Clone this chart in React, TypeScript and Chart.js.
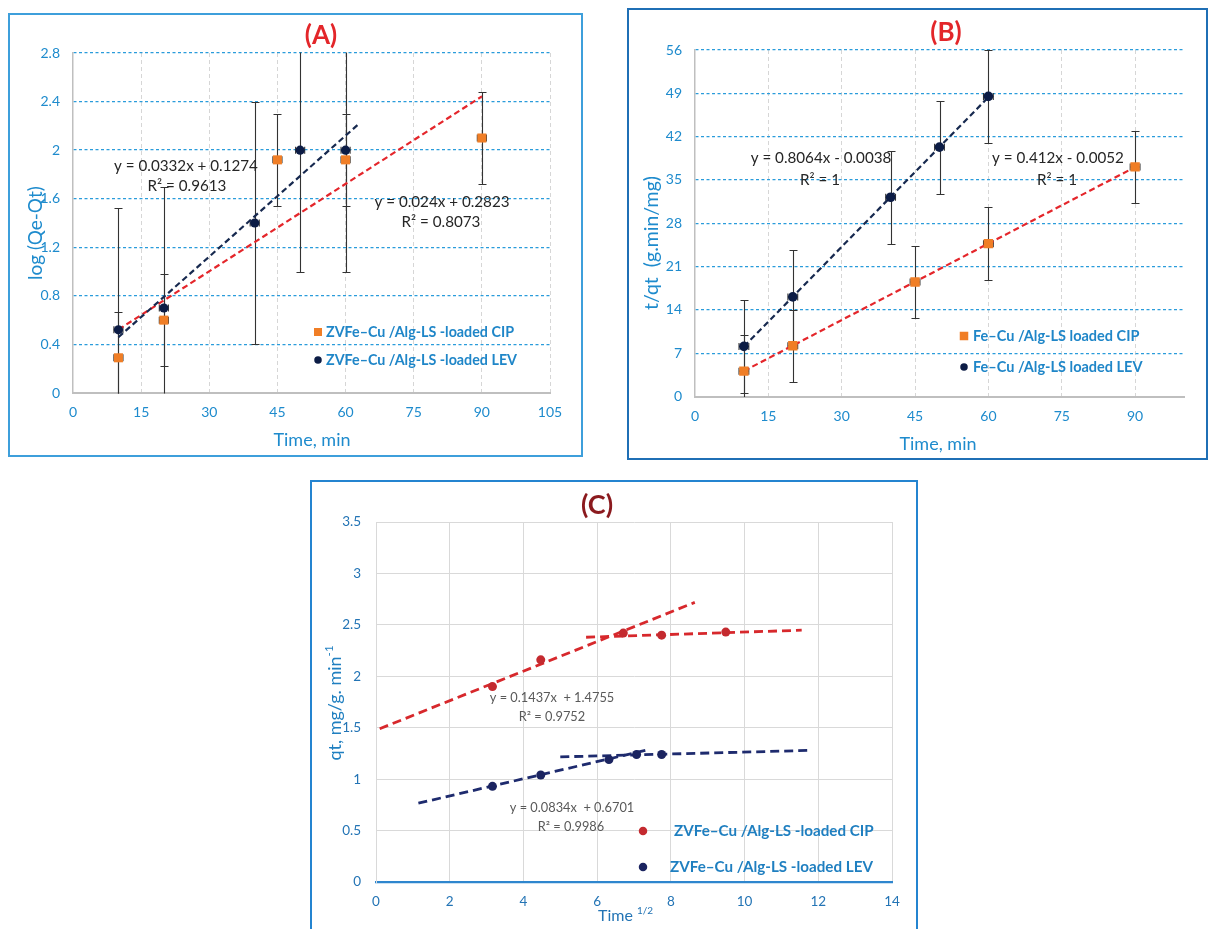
import React, { useEffect, useRef } from 'react';
import { Chart, registerables } from 'chart.js';

Chart.register(...registerables);

const FAMILY = "Lato, 'Open Sans', 'DejaVu Sans', sans-serif";

// ---------- (A) pseudo-first-order: log(Qe-Qt) vs time ----------
const A_TIME_CIP = [10, 20, 45, 60, 90];
const A_LOG_CIP = [0.29, 0.6, 1.92, 1.92, 2.1];
const A_ERR_CIP = [0.38, 0.38, 0.38, 0.38, 0.38];
const A_TIME_LEV = [10, 20, 40, 50, 60];
const A_LOG_LEV = [0.52, 0.7, 1.4, 2.0, 2.0];
const A_ERR_LEV = [1, 1, 1, 1, 1];
const A_X_TICKS = [0, 15, 30, 45, 60, 75, 90, 105];
const A_Y_TICKS = [0, 0.4, 0.8, 1.2, 1.6, 2, 2.4, 2.8];
// linear fits: [slope, intercept, xStart, xEnd]
const A_FIT_CIP = [0.024, 0.2823, 10, 90];
const A_FIT_LEV = [0.0332, 0.1274, 10, 63];

// ---------- (B) pseudo-second-order: t/qt vs time ----------
const B_TIME_CIP = [10, 20, 45, 60, 90];
const B_TQ_CIP = [4.1, 8.2, 18.5, 24.7, 37.1];
const B_ERR_CIP = [5.85, 5.85, 5.85, 5.85, 5.85];
const B_TIME_LEV = [10, 20, 40, 50, 60];
const B_TQ_LEV = [8.1, 16.1, 32.2, 40.3, 48.5];
const B_ERR_LEV = [7.5, 7.5, 7.5, 7.5, 7.5];
const B_X_TICKS = [0, 15, 30, 45, 60, 75, 90];
const B_Y_TICKS = [0, 7, 14, 21, 28, 35, 42, 49, 56];
const B_FIT_CIP = [0.412, -0.0052, 10, 90];
const B_FIT_LEV = [0.8064, -0.0038, 10, 60];

// ---------- (C) intraparticle diffusion: qt vs t^1/2 ----------
const C_ROOT_CIP = [3.16, 4.47, 6.71, 7.75, 9.49];
const C_QT_CIP = [1.9, 2.16, 2.42, 2.4, 2.43];
const C_ROOT_LEV = [3.16, 4.47, 6.32, 7.07, 7.75];
const C_QT_LEV = [0.93, 1.04, 1.19, 1.24, 1.24];
const C_X_TICKS = [0, 2, 4, 6, 8, 10, 12, 14];
const C_Y_TICKS = [0, 0.5, 1, 1.5, 2, 2.5, 3, 3.5];
const C_FIT_CIP_1 = [0.1437, 1.4755, 0.1, 8.65];
const C_FIT_CIP_2 = [0.0117, 2.313, 5.7, 11.55];
const C_FIT_LEV_1 = [0.0834, 0.6701, 1.15, 7.35];
const C_FIT_LEV_2 = [0.0093, 1.17, 5.0, 11.8];

const LABEL_ZV_CIP = 'ZVFe–Cu /Alg-LS -loaded CIP';
const LABEL_ZV_LEV = 'ZVFe–Cu /Alg-LS -loaded LEV';
const LABEL_FE_CIP = 'Fe–Cu /Alg-LS loaded CIP';
const LABEL_FE_LEV = 'Fe–Cu /Alg-LS loaded LEV';

const ORANGE = '#F07E26';
const NAVY = '#0C1C45';
const FIT_RED = '#E4262B';
const FIT_NAVY = '#17294F';

type Part = { t: string; size: number; bold?: boolean; dy?: number };
type TextItem = { parts: Part[]; x: number; y: number; color: string; align?: 'center' | 'left'; rot?: number };
type LegendItem = {
  label: string; color: string; shape: 'rect' | 'circle'; x: number; y: number;
  gap: number; size: number; textColor: string; textSize: number;
};
type ErrSet = { xs: number[]; ys: number[]; yerr: number[]; xerr: number };

interface PanelSpec {
  left: number; top: number; w: number; h: number;
  plot: { l: number; r: number; t: number; b: number };
  border: string;
  xMin: number; xMax: number; yMin: number; yMax: number;
  xTicks: number[]; yTicks: number[];
  tickColor: string; tickSize: number; xPad: number; yPad: number;
  grid: 'excelDotted' | 'plain';
  xAxisColor: string; xAxisWidth: number;
  datasets: any[];
  errors: ErrSet[];
  texts: TextItem[];
  legend: LegendItem[];
}

const pts = (xs: number[], ys: number[]) => xs.map((x, i) => ({ x, y: ys[i] }));

const markerSet = (label: string, xs: number[], ys: number[], color: string, style: string, radius: number) => ({
  label,
  data: pts(xs, ys),
  pointStyle: style,
  pointRadius: radius,
  pointHoverRadius: radius,
  backgroundColor: color,
  borderColor: color,
  borderWidth: 0,
  showLine: false,
  order: 0,
});

const fitSet = (fit: number[], color: string, width: number, dash: number[]) => ({
  label: 'fit',
  data: [
    { x: fit[2], y: fit[0] * fit[2] + fit[1] },
    { x: fit[3], y: fit[0] * fit[3] + fit[1] },
  ],
  showLine: true,
  borderColor: color,
  borderWidth: width,
  borderDash: dash,
  pointRadius: 0,
  pointHoverRadius: 0,
  fill: false,
  tension: 0,
  order: 1,
});

function drawRich(ctx: CanvasRenderingContext2D, item: TextItem) {
  ctx.save();
  ctx.translate(item.x, item.y);
  ctx.rotate(item.rot || 0);
  ctx.fillStyle = item.color;
  ctx.textBaseline = 'middle';
  ctx.textAlign = 'left';
  const fonts = item.parts.map((p) => `${p.bold ? 'bold ' : ''}${p.size}px ${FAMILY}`);
  const widths = item.parts.map((p, i) => {
    ctx.font = fonts[i];
    return ctx.measureText(p.t).width;
  });
  const total = widths.reduce((a, b) => a + b, 0);
  let cx = item.align === 'left' ? 0 : -total / 2;
  item.parts.forEach((p, i) => {
    ctx.font = fonts[i];
    ctx.fillText(p.t, cx, p.dy || 0);
    cx += widths[i];
  });
  ctx.restore();
}

const fmt = (v: number) => String(+Number(v).toFixed(2));

function buildConfig(spec: PanelSpec): any {
  const errorPlugin = {
    id: 'errorBars',
    beforeDatasetsDraw(chart: any) {
      const { ctx, chartArea, scales } = chart;
      const xs = scales.x;
      const ys = scales.y;
      ctx.save();
      ctx.beginPath();
      ctx.rect(chartArea.left, chartArea.top - 0.5, chartArea.right - chartArea.left, chartArea.bottom - chartArea.top + 1);
      ctx.clip();
      ctx.strokeStyle = '#333333';
      ctx.lineWidth = 1.1;
      const seg = (x1: number, y1: number, x2: number, y2: number) => {
        ctx.beginPath();
        ctx.moveTo(x1, y1);
        ctx.lineTo(x2, y2);
        ctx.stroke();
      };
      spec.errors.forEach((set) => {
        set.xs.forEach((xv, i) => {
          const px = Math.round(xs.getPixelForValue(xv)) + 0.5;
          const py = ys.getPixelForValue(set.ys[i]);
          const top = Math.round(ys.getPixelForValue(set.ys[i] + set.yerr[i])) + 0.5;
          const bot = Math.round(ys.getPixelForValue(set.ys[i] - set.yerr[i])) + 0.5;
          seg(px, top, px, bot);
          seg(px - 4, top, px + 4, top);
          seg(px - 4, bot, px + 4, bot);
          const l = xs.getPixelForValue(xv - set.xerr);
          const r = xs.getPixelForValue(xv + set.xerr);
          seg(l, py, r, py);
          seg(l, py - 3.5, l, py + 3.5);
          seg(r, py - 3.5, r, py + 3.5);
        });
      });
      ctx.restore();
    },
  };

  const textPlugin = {
    id: 'panelText',
    afterDraw(chart: any) {
      const ctx = chart.ctx as CanvasRenderingContext2D;
      spec.texts.forEach((t) => drawRich(ctx, t));
      spec.legend.forEach((lg) => {
        ctx.save();
        ctx.fillStyle = lg.color;
        if (lg.shape === 'rect') {
          ctx.fillRect(lg.x - lg.size / 2, lg.y - lg.size / 2, lg.size, lg.size);
        } else {
          ctx.beginPath();
          ctx.arc(lg.x, lg.y, lg.size / 2, 0, Math.PI * 2);
          ctx.fill();
        }
        ctx.restore();
        drawRich(ctx, {
          parts: [{ t: lg.label, size: lg.textSize, bold: true }],
          x: lg.x + lg.gap,
          y: lg.y,
          color: lg.textColor,
          align: 'left',
        });
      });
    },
  };

  const excel = spec.grid === 'excelDotted';
  const tickFont = { family: FAMILY, size: spec.tickSize, lineHeight: 1.2 };

  return {
    type: 'scatter',
    data: { datasets: spec.datasets },
    options: {
      responsive: false,
      animation: false,
      devicePixelRatio: 1,
      events: [],
      layout: { padding: { left: 0, top: spec.plot.t, right: spec.w - spec.plot.r, bottom: 0 } },
      plugins: { legend: { display: false }, tooltip: { enabled: false }, title: { display: false } },
      scales: {
        x: {
          type: 'linear',
          min: spec.xMin,
          max: spec.xMax,
          afterBuildTicks: (s: any) => {
            s.ticks = spec.xTicks.map((v) => ({ value: v }));
          },
          afterFit: (s: any) => {
            s.height = spec.h - spec.plot.b;
          },
          ticks: {
            autoSkip: false,
            maxRotation: 0,
            padding: spec.xPad,
            color: spec.tickColor,
            font: tickFont,
            callback: (v: number) => fmt(v),
          },
          grid: {
            drawTicks: false,
            lineWidth: 1,
            color: (c: any) => (c.tick && c.tick.value === spec.xMin ? 'rgba(0,0,0,0)' : excel ? '#D6D6D6' : '#D9D9D9'),
          },
          border: { display: true, color: spec.xAxisColor, width: spec.xAxisWidth, dash: excel ? [4, 3] : [] },
        },
        y: {
          type: 'linear',
          min: spec.yMin,
          max: spec.yMax,
          afterBuildTicks: (s: any) => {
            s.ticks = spec.yTicks.map((v) => ({ value: v }));
          },
          afterFit: (s: any) => {
            s.width = spec.plot.l;
          },
          ticks: {
            autoSkip: false,
            padding: spec.yPad,
            color: spec.tickColor,
            font: tickFont,
            callback: (v: number) => fmt(v),
          },
          grid: {
            drawTicks: false,
            lineWidth: excel ? 1.3 : 1,
            color: (c: any) => (c.tick && c.tick.value === spec.yMin ? 'rgba(0,0,0,0)' : excel ? '#2A9CDB' : '#D9D9D9'),
          },
          border: { display: true, color: excel ? '#BFBFBF' : '#D9D9D9', width: excel ? 1.5 : 1, dash: excel ? [3, 2.5] : [] },
        },
      },
    },
    plugins: [errorPlugin, textPlugin],
  };
}

const BLUE_TXT = '#1E8BCD';
const EQ_DARK = '#262626';
const EQ_SIZE = 15.2;

const PANEL_A: PanelSpec = {
  left: 8, top: 13, w: 575, h: 444,
  plot: { l: 65, r: 542, t: 40, b: 380 },
  border: '#3E9FDB',
  xMin: 0, xMax: 105, yMin: 0, yMax: 2.8,
  xTicks: A_X_TICKS, yTicks: A_Y_TICKS,
  tickColor: BLUE_TXT, tickSize: 14, xPad: 11.5, yPad: 13,
  grid: 'excelDotted',
  xAxisColor: '#BFBFBF', xAxisWidth: 2,
  datasets: [
    markerSet(LABEL_ZV_CIP, A_TIME_CIP, A_LOG_CIP, ORANGE, 'rect', 6.4),
    markerSet(LABEL_ZV_LEV, A_TIME_LEV, A_LOG_LEV, NAVY, 'circle', 4.6),
    fitSet(A_FIT_LEV, FIT_NAVY, 2.2, [6, 3.5]),
    fitSet(A_FIT_CIP, FIT_RED, 2.2, [6, 3.5]),
  ],
  errors: [
    { xs: A_TIME_CIP, ys: A_LOG_CIP, yerr: A_ERR_CIP, xerr: 1 },
    { xs: A_TIME_LEV, ys: A_LOG_LEV, yerr: A_ERR_LEV, xerr: 1 },
  ],
  texts: [
    { parts: [{ t: '(A)', size: 26, bold: true }], x: 313, y: 23, color: '#E3262A' },
    { parts: [{ t: 'log (Qe-Qt)', size: 19 }], x: 28, y: 220, color: BLUE_TXT, rot: -Math.PI / 2 },
    { parts: [{ t: 'Time, min', size: 18 }], x: 304, y: 427, color: BLUE_TXT },
    { parts: [{ t: 'y = 0.0332x + 0.1274', size: EQ_SIZE }], x: 178, y: 153, color: EQ_DARK },
    { parts: [{ t: 'R² = 0.9613', size: EQ_SIZE }], x: 179, y: 173, color: EQ_DARK },
    { parts: [{ t: 'y = 0.024x + 0.2823', size: EQ_SIZE }], x: 434, y: 189, color: EQ_DARK },
    { parts: [{ t: 'R² = 0.8073', size: EQ_SIZE }], x: 433, y: 209, color: EQ_DARK },
  ],
  legend: [
    { label: LABEL_ZV_CIP, color: ORANGE, shape: 'rect', x: 310, y: 319, gap: 8, size: 8, textColor: '#1F86C8', textSize: 14.3 },
    { label: LABEL_ZV_LEV, color: NAVY, shape: 'circle', x: 310, y: 347, gap: 8, size: 7.5, textColor: '#1F86C8', textSize: 14.3 },
  ],
};

const PANEL_B: PanelSpec = {
  left: 627, top: 8, w: 581, h: 452,
  plot: { l: 68, r: 557, t: 42, b: 388.5 },
  border: '#1F6FB5',
  xMin: 0, xMax: 100, yMin: 0, yMax: 56,
  xTicks: B_X_TICKS, yTicks: B_Y_TICKS,
  tickColor: BLUE_TXT, tickSize: 14, xPad: 12, yPad: 13,
  grid: 'excelDotted',
  xAxisColor: '#BFBFBF', xAxisWidth: 2,
  datasets: [
    markerSet(LABEL_FE_CIP, B_TIME_CIP, B_TQ_CIP, ORANGE, 'rect', 6.6),
    markerSet(LABEL_FE_LEV, B_TIME_LEV, B_TQ_LEV, NAVY, 'circle', 4.8),
    fitSet(B_FIT_LEV, FIT_NAVY, 2.2, [6, 3.5]),
    fitSet(B_FIT_CIP, FIT_RED, 2.2, [6, 3.5]),
  ],
  errors: [
    { xs: B_TIME_CIP, ys: B_TQ_CIP, yerr: B_ERR_CIP, xerr: 1 },
    { xs: B_TIME_LEV, ys: B_TQ_LEV, yerr: B_ERR_LEV, xerr: 1 },
  ],
  texts: [
    { parts: [{ t: '(B)', size: 26, bold: true }], x: 319, y: 25, color: '#E3262A' },
    { parts: [{ t: 't/qt  (g.min/mg)', size: 19.5 }], x: 25, y: 235, color: BLUE_TXT, rot: -Math.PI / 2 },
    { parts: [{ t: 'Time, min', size: 18 }], x: 311, y: 436, color: BLUE_TXT },
    { parts: [{ t: 'y = 0.8064x - 0.0038', size: EQ_SIZE }], x: 194, y: 150, color: EQ_DARK },
    { parts: [{ t: 'R² = 1', size: EQ_SIZE }], x: 193, y: 172, color: EQ_DARK },
    { parts: [{ t: 'y = 0.412x - 0.0052', size: EQ_SIZE }], x: 431, y: 150, color: EQ_DARK },
    { parts: [{ t: 'R² = 1', size: EQ_SIZE }], x: 430, y: 172, color: EQ_DARK },
  ],
  legend: [
    { label: LABEL_FE_CIP, color: ORANGE, shape: 'rect', x: 337, y: 328, gap: 9, size: 8.5, textColor: '#1F86C8', textSize: 14.5 },
    { label: LABEL_FE_LEV, color: NAVY, shape: 'circle', x: 337, y: 359, gap: 9, size: 7.5, textColor: '#1F86C8', textSize: 14.5 },
  ],
};

const C_RED = '#C42A2F';
const C_NAVY = '#1B2460';
const C_LINE_RED = '#D7282C';
const C_LINE_NAVY = '#1E2B6E';
const C_TXT = '#2374B5';

const PANEL_C: PanelSpec = {
  left: 310, top: 480, w: 608, h: 460,
  plot: { l: 66, r: 582, t: 42, b: 402 },
  border: '#2484D0',
  xMin: 0, xMax: 14, yMin: 0, yMax: 3.5,
  xTicks: C_X_TICKS, yTicks: C_Y_TICKS,
  tickColor: C_TXT, tickSize: 13.5, xPad: 12, yPad: 15,
  grid: 'plain',
  xAxisColor: '#2E86CE', xAxisWidth: 2.2,
  datasets: [
    markerSet(LABEL_ZV_CIP, C_ROOT_CIP, C_QT_CIP, C_RED, 'circle', 4.5),
    markerSet(LABEL_ZV_LEV, C_ROOT_LEV, C_QT_LEV, C_NAVY, 'circle', 4.5),
    fitSet(C_FIT_CIP_1, C_LINE_RED, 2.8, [9, 5]),
    fitSet(C_FIT_CIP_2, C_LINE_RED, 2.8, [9, 5]),
    fitSet(C_FIT_LEV_1, C_LINE_NAVY, 2.8, [9, 5]),
    fitSet(C_FIT_LEV_2, C_LINE_NAVY, 2.8, [9, 5]),
  ],
  errors: [],
  texts: [
    { parts: [{ t: '(C)', size: 27, bold: true }], x: 287, y: 25, color: '#8B1A1E' },
    {
      parts: [{ t: 'qt, mg/g. min', size: 18 }, { t: '-1', size: 11.5, dy: -6 }],
      x: 25, y: 223, color: '#1F7FC0', rot: -Math.PI / 2,
    },
    {
      parts: [{ t: 'Time ', size: 16 }, { t: '1/2', size: 10, dy: -5 }],
      x: 288, y: 436, color: C_TXT, align: 'left',
    },
    { parts: [{ t: 'y = 0.1437x  + 1.4755', size: 12.8 }], x: 242, y: 218, color: '#595959' },
    { parts: [{ t: 'R² = 0.9752', size: 12.8 }], x: 242, y: 237, color: '#595959' },
    { parts: [{ t: 'y = 0.0834x  + 0.6701', size: 12.8 }], x: 262, y: 328, color: '#595959' },
    { parts: [{ t: 'R² = 0.9986', size: 12.8 }], x: 261, y: 347, color: '#595959' },
  ],
  legend: [
    { label: LABEL_ZV_CIP, color: C_RED, shape: 'circle', x: 333, y: 351, gap: 31, size: 8.5, textColor: '#1F7FC0', textSize: 15.2 },
    { label: LABEL_ZV_LEV, color: C_NAVY, shape: 'circle', x: 333, y: 387, gap: 27, size: 8.5, textColor: '#1F7FC0', textSize: 15.2 },
  ],
};

const PANELS = [PANEL_A, PANEL_B, PANEL_C];

function Panel({ spec }: { spec: PanelSpec }) {
  const ref = useRef<HTMLCanvasElement | null>(null);
  useEffect(() => {
    if (!ref.current) return;
    const chart = new Chart(ref.current, buildConfig(spec));
    return () => chart.destroy();
  }, [spec]);
  return (
    <div style={{ position: 'absolute', left: spec.left, top: spec.top, width: spec.w, height: spec.h }}>
      <canvas ref={ref} width={spec.w} height={spec.h} style={{ display: 'block', width: spec.w, height: spec.h }} />
      <div
        style={{
          position: 'absolute',
          left: 0,
          top: 0,
          width: spec.w,
          height: spec.h,
          border: `2px solid ${spec.border}`,
          boxSizing: 'border-box',
          pointerEvents: 'none',
        }}
      />
    </div>
  );
}

export default function App() {
  return (
    <div style={{ position: 'fixed', left: 0, top: 0, width: 1211, height: 929, overflow: 'hidden', background: '#ffffff' }}>
      {PANELS.map((p, i) => (
        <Panel key={i} spec={p} />
      ))}
    </div>
  );
}
